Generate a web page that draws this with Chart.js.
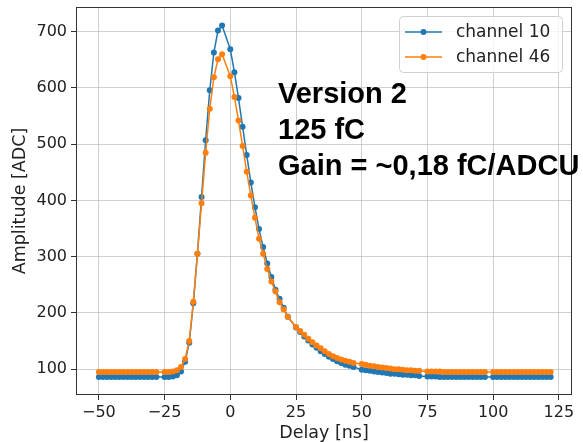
<!DOCTYPE html>
<html>
<head>
<meta charset="utf-8">
<script src="https://cdn.jsdelivr.net/npm/chart.js@4.4.1/dist/chart.umd.min.js"></script>
<style>
  html, body { margin: 0; padding: 0; background: #fff; }
  #wrap { width: 583px; height: 442px; }
</style>
</head>
<body>
<div id="wrap"><canvas id="pulse-chart" width="583" height="442"></canvas></div>
<script>
// delay steps in ns (7 coarse windows of 25 ns, 15 fine steps each)
const delays = [
  -50, -48.4375, -46.875, -45.3125, -43.75, -42.1875, -40.625, -39.0625, -37.5, -35.9375, -34.375, -32.8125, -31.25, -29.6875, -28.125,
  -25, -23.4375, -21.875, -20.3125, -18.75, -17.1875, -15.625, -14.0625, -12.5, -10.9375, -9.375, -7.8125, -6.25, -4.6875, -3.125,
  0, 1.5625, 3.125, 4.6875, 6.25, 7.8125, 9.375, 10.9375, 12.5, 14.0625, 15.625, 17.1875, 18.75, 20.3125, 21.875,
  25, 26.5625, 28.125, 29.6875, 31.25, 32.8125, 34.375, 35.9375, 37.5, 39.0625, 40.625, 42.1875, 43.75, 45.3125, 46.875,
  50, 51.5625, 53.125, 54.6875, 56.25, 57.8125, 59.375, 60.9375, 62.5, 64.0625, 65.625, 67.1875, 68.75, 70.3125, 71.875,
  75, 76.5625, 78.125, 79.6875, 81.25, 82.8125, 84.375, 85.9375, 87.5, 89.0625, 90.625, 92.1875, 93.75, 95.3125, 96.875,
  100, 101.5625, 103.125, 104.6875, 106.25, 107.8125, 109.375, 110.9375, 112.5, 114.0625, 115.625, 117.1875, 118.75, 120.3125, 121.875
];

const channel10 = [
  86, 86, 86, 86, 86, 86, 86, 86, 86, 86, 86, 86, 86, 86, 86,
  86, 86, 87, 89, 96, 113, 147, 217, 305, 406, 507, 596, 663, 702, 711,
  669, 628, 582, 531, 481, 432, 388, 349, 317, 288, 264, 241, 225, 209, 193,
  174, 166, 158, 151, 144, 138, 132, 127, 122, 118, 114, 111, 108, 106, 104,
  99, 98, 97, 96, 95, 94, 93, 92, 92, 91, 90, 90, 89, 89, 88,
  87, 87, 87, 86, 86, 86, 86, 86, 86, 86, 86, 86, 86, 86, 86,
  86, 86, 86, 86, 86, 86, 86, 86, 86, 86, 86, 86, 86, 86, 86
];

const channel46 = [
  95, 95, 95, 95, 95, 95, 95, 95, 95, 95, 95, 95, 95, 95, 95,
  95, 95, 96, 98, 104, 118, 150, 220, 305, 395, 485, 563, 619, 651, 660,
  621, 584, 542, 497, 451, 409, 369, 332, 305, 278, 256, 238, 219, 206, 193,
  175, 168, 161, 154, 148, 142, 137, 132, 127, 123, 120, 117, 115, 113, 111,
  109, 108, 106, 105, 104, 103, 102, 101, 100, 100, 99, 98, 98, 97, 97,
  96, 96, 96, 96, 95, 95, 95, 95, 95, 95, 95, 95, 95, 95, 95,
  95, 95, 95, 95, 95, 95, 95, 95, 95, 95, 95, 95, 95, 95, 95
];

const xTicks = [-50, -25, 0, 25, 50, 75, 100, 125];
const yTicks = [100, 200, 300, 400, 500, 600, 700];
const seriesNames = ['channel 10', 'channel 46'];
const noteLines = ['Version 2', '125 fC', 'Gain = ~0,18 fC/ADCU'];

const blue = '#1f77b4';
const orange = '#ff7f0e';

const toPoints = (ys) => delays.map((d, i) => ({ x: d, y: ys[i] }));
const minus = (v) => String(v).replace('-', '\u2212');

// frame + legend + text block
const extras = {
  id: 'extras',
  afterDraw(chart) {
    const ctx = chart.ctx;
    const a = chart.chartArea;
    ctx.save();
    ctx.strokeStyle = '#333';
    ctx.lineWidth = 1;
    ctx.strokeRect(a.left + 0.5, a.top + 0.5, a.right - a.left - 1, a.bottom - a.top - 1);

    // legend box
    const bx = 399.5, by = 16.5, bw = 163, bh = 56;
    ctx.beginPath();
    ctx.roundRect(bx, by, bw, bh, 4);
    ctx.fillStyle = 'rgba(255,255,255,0.8)';
    ctx.fill();
    ctx.strokeStyle = '#d0d0d0';
    ctx.stroke();

    ctx.font = '17px "DejaVu Sans"';
    ctx.textBaseline = 'middle';
    chart.data.datasets.forEach((ds, i) => {
      const ry = 32 + i * 25;
      ctx.strokeStyle = ds.borderColor;
      ctx.lineWidth = 1.5;
      ctx.beginPath();
      ctx.moveTo(405, ry);
      ctx.lineTo(442, ry);
      ctx.stroke();
      ctx.fillStyle = ds.borderColor;
      ctx.beginPath();
      ctx.arc(423.5, ry, 3, 0, Math.PI * 2);
      ctx.fill();
      ctx.fillStyle = '#222';
      ctx.fillText(ds.label, 456, ry + 1);
    });

    ctx.font = 'bold 29px "Liberation Sans"';
    ctx.fillStyle = '#000';
    ctx.textBaseline = 'alphabetic';
    noteLines.forEach((t, i) => {
      ctx.fillText(t, 278, 103 + i * 36);
    });
    ctx.restore();
  }
};

const ctx = document.getElementById('pulse-chart').getContext('2d');

new Chart(ctx, {
  type: 'scatter',
  data: {
    datasets: [
      {
        label: seriesNames[0],
        data: toPoints(channel10),
        showLine: true,
        borderColor: blue,
        backgroundColor: blue,
        borderWidth: 1.5,
        pointRadius: 3,
        pointBorderWidth: 0,
        order: 1,
      },
      {
        label: seriesNames[1],
        data: toPoints(channel46),
        showLine: true,
        borderColor: orange,
        backgroundColor: orange,
        borderWidth: 1.5,
        pointRadius: 3,
        pointBorderWidth: 0,
        order: 0,
      },
    ],
  },
  options: {
    responsive: false,
    animation: false,
    layout: { padding: { top: 7, right: 11, left: 0, bottom: 0 } },
    plugins: {
      legend: { display: false },
      tooltip: { enabled: false },
    },
    scales: {
      x: {
        type: 'linear',
        min: -58.7,
        max: 130,
        afterBuildTicks: (scale) => { scale.ticks = xTicks.map((v) => ({ value: v })); },
        afterFit: (scale) => {
          scale.height = 47;
          scale.paddingLeft = 0;
          scale.paddingRight = 0;
        },
        grid: { color: 'rgba(176,176,176,0.6)', lineWidth: 1, tickColor: '#333', tickLength: 5 },
        border: { display: false },
        ticks: {
          color: '#222',
          padding: 3,
          maxRotation: 0,
          font: { family: 'DejaVu Sans', size: 16 },
          callback: (v) => minus(v),
        },
        title: {
          display: true,
          text: 'Delay [ns]',
          color: '#222',
          padding: { top: 0, bottom: -2 },
          font: { family: 'DejaVu Sans', size: 17.5 },
        },
      },
      y: {
        type: 'linear',
        min: 54,
        max: 744,
        afterBuildTicks: (scale) => { scale.ticks = yTicks.map((v) => ({ value: v })); },
        afterFit: (scale) => {
          scale.width = 76;
          scale.paddingTop = 0;
          scale.paddingBottom = 0;
        },
        grid: { color: 'rgba(176,176,176,0.6)', lineWidth: 1, tickColor: '#333', tickLength: 5 },
        border: { display: false },
        ticks: {
          color: '#222',
          padding: 4,
          font: { family: 'DejaVu Sans', size: 16 },
        },
        title: {
          display: true,
          text: 'Amplitude [ADC]',
          color: '#222',
          padding: { top: 10, bottom: 0 },
          font: { family: 'DejaVu Sans', size: 17.5 },
        },
      },
    },
  },
  plugins: [extras],
});
</script>
</body>
</html>
